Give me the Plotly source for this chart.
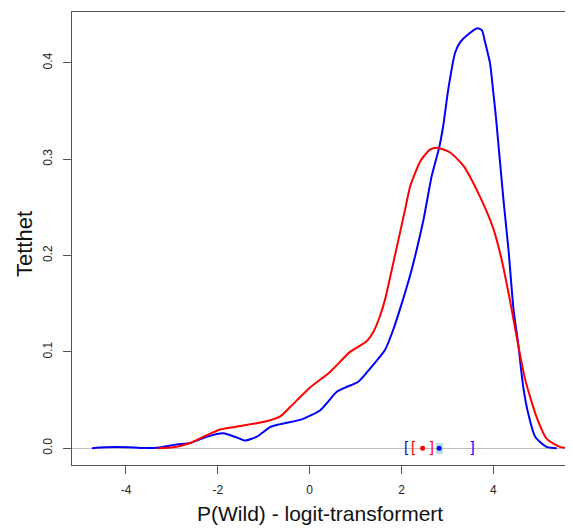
import plotly.graph_objects as go

# Density curves (x: logit-transformed P(Wild), y: density)
blue_x = [-4.74, -4.45, -3.95, -3.69, -3.32, -2.89, -2.60, -2.24, -1.88, -1.58, -1.40, -1.15, -0.86, -0.64,
          -0.17, 0.23, 0.59, 0.77, 1.06, 1.32, 1.64, 1.82, 2.03, 2.22, 2.48, 2.66, 2.82, 2.91, 3.02, 3.17,
          3.28, 3.46, 3.65, 3.75, 3.82, 3.93, 4.00, 4.06, 4.22, 4.33, 4.44, 4.54, 4.65, 4.76, 4.91, 5.16, 5.38]
blue_y = [0.0, 0.001, 0.001, 0.0003, 0.0005, 0.004, 0.0055, 0.012, 0.0155, 0.011, 0.008, 0.012, 0.022, 0.025,
          0.030, 0.0395, 0.0586, 0.063, 0.069, 0.083, 0.102, 0.123, 0.154, 0.185, 0.2375, 0.283, 0.312, 0.335, 0.373, 0.411,
          0.4215, 0.430, 0.436, 0.434, 0.4215, 0.399, 0.369, 0.342, 0.258, 0.206, 0.144, 0.109, 0.064, 0.036, 0.012, 0.0014, 0.0]

red_x = [-3.30, -2.97, -2.60, -2.24, -1.95, -1.51, -1.15, -0.86, -0.64, -0.42, 0.01, 0.45, 0.88, 1.24, 1.39,
         1.53, 1.64, 1.82, 2.08, 2.19, 2.41, 2.62, 2.77, 3.06, 3.35, 3.67, 4.00, 4.18, 4.36, 4.51, 4.69,
         4.94, 5.16, 5.45, 5.67]
red_y = [0.0, 0.001, 0.0055, 0.0135, 0.0195, 0.023, 0.026, 0.029, 0.033, 0.043, 0.063, 0.0795, 0.100, 0.111, 0.121,
         0.137, 0.154, 0.192, 0.248, 0.272, 0.298, 0.310, 0.312, 0.307, 0.293, 0.265, 0.228, 0.196, 0.154, 0.115, 0.072,
         0.0326, 0.010, 0.0014, 0.0]

# Point estimates and intervals
blue_est = 2.82
blue_ci = [2.10, 3.55]
blue_inner = [2.75, 2.90]
red_est = 2.46
red_ci = [2.25, 2.66]

x_ticks = [-4, -2, 0, 2, 4]
y_ticks = [0.0, 0.1, 0.2, 0.3, 0.4]
y_tick_labels = ["0.0", "0.1", "0.2", "0.3", "0.4"]

x_title = "P(Wild) - logit-transformert"
y_title = "Tetthet"

BLUE = "#0000FF"
RED = "#FF0000"
FONT = "Liberation Sans, Arial"

# page offset of the figure (browser body margin) is 8px; plot area on page: x 72..581, y 12..465
PW, PH = 509, 453

fig = go.Figure()

fig.add_shape(type="rect", x0=blue_inner[0], x1=blue_inner[1], y0=-0.0062, y1=0.0055,
              fillcolor="rgba(173,216,230,0.85)", line_width=0, layer="below")

fig.add_trace(go.Scatter(x=blue_x, y=blue_y, mode="lines", line=dict(color=BLUE, width=2, shape="spline", smoothing=0.6),
                         showlegend=False, hoverinfo="skip"))
fig.add_trace(go.Scatter(x=red_x, y=red_y, mode="lines", line=dict(color=RED, width=2, shape="spline", smoothing=0.6),
                         showlegend=False, hoverinfo="skip"))

fig.add_trace(go.Scatter(x=blue_ci, y=[0, 0], mode="text", text=["[", "]"],
                         textfont=dict(color=BLUE, size=15, family=FONT),
                         textposition="middle center", showlegend=False, hoverinfo="skip"))
fig.add_trace(go.Scatter(x=red_ci, y=[0, 0], mode="text", text=["[", "]"],
                         textfont=dict(color=RED, size=15, family=FONT),
                         textposition="middle center", showlegend=False, hoverinfo="skip"))
fig.add_trace(go.Scatter(x=[red_est], y=[0], mode="markers", marker=dict(color=RED, size=5),
                         showlegend=False, hoverinfo="skip"))
fig.add_trace(go.Scatter(x=[blue_est], y=[0], mode="markers", marker=dict(color=BLUE, size=5),
                         showlegend=False, hoverinfo="skip"))

fig.update_layout(
    width=573, height=521,
    margin=dict(l=64, r=0, t=4, b=64, autoexpand=False),
    plot_bgcolor="white", paper_bgcolor="white",
    font=dict(family=FONT, color="#222"),
    annotations=[
        dict(text=x_title, xref="paper", yref="paper", x=(320 - 72) / PW, y=-(513 - 465) / PH,
             xanchor="center", yanchor="middle", showarrow=False, font=dict(size=21, color="#111")),
        dict(text=y_title, xref="paper", yref="paper", x=-(72 - 25) / PW, y=(465 - 244) / PH,
             xanchor="center", yanchor="middle", textangle=-90, showarrow=False, font=dict(size=22, color="#111")),
    ],
)

fig.update_xaxes(
    range=[-5.175, 5.909], tickvals=x_ticks, ticktext=[str(v) for v in x_ticks],
    showgrid=False, zeroline=False, automargin=False,
    showline=True, linecolor="#555", linewidth=1, mirror=True,
    ticks="outside", ticklen=8, tickcolor="#555", tickfont=dict(size=12),
    ticklabelstandoff=6,
)
fig.update_yaxes(
    range=[-0.0174, 0.4528], tickvals=y_ticks, ticktext=y_tick_labels, tickangle=-90,
    showgrid=False, zeroline=True, zerolinecolor="#BEBEBE", zerolinewidth=1, automargin=False,
    showline=True, linecolor="#555", linewidth=1, mirror=False,
    ticks="outside", ticklen=8, tickcolor="#555", tickfont=dict(size=12),
    ticklabelstandoff=6,
)

fig.write_html("out.html")
